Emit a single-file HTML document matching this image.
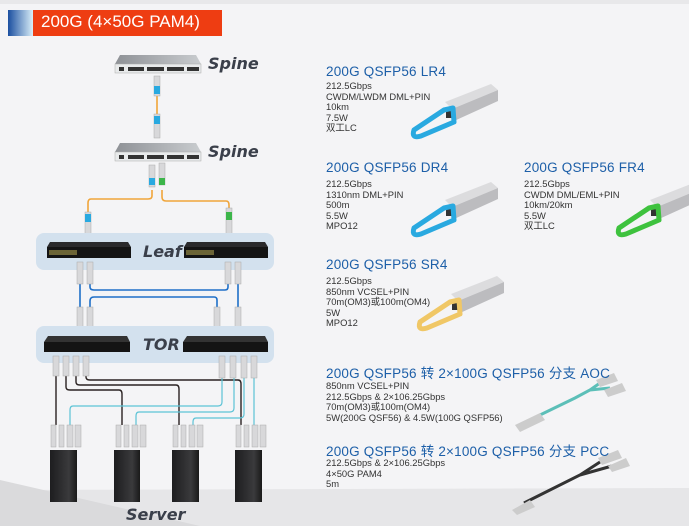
<!DOCTYPE html>
<html><head><meta charset="utf-8"><style>
html,body{margin:0;padding:0}
body{width:689px;height:526px;overflow:hidden;background:#f4f4f6;position:relative;font-family:"Liberation Sans","Noto Sans CJK SC",sans-serif}
.t{position:absolute;color:#1d5fa8;font-size:13.5px;white-space:nowrap;letter-spacing:0.2px}
.d{position:absolute;color:#333;font-size:9.4px;line-height:10.6px;white-space:nowrap}
.lbl{position:absolute;font-weight:bold;font-style:italic;color:#3a3f4a;font-size:16px;font-family:"DejaVu Sans",sans-serif}
</style></head><body>
<svg width="689" height="526" style="position:absolute;left:0;top:0">
<defs>
<linearGradient id="bg" x1="0" x2="1"><stop offset="0" stop-color="#1b4fa0"/><stop offset="1" stop-color="#d9eef8"/></linearGradient>
<linearGradient id="sw" x1="0" x2="1"><stop offset="0" stop-color="#8e9196"/><stop offset="1" stop-color="#c9cccf"/></linearGradient>
<linearGradient id="sv" x1="0" x2="1"><stop offset="0" stop-color="#1d1d1f"/><stop offset="0.7" stop-color="#3a3a3c"/><stop offset="1" stop-color="#1a1a1a"/></linearGradient>
<g id="mod">
<polygon points="445,102 491,84 498,90 452,109" fill="#dcdcde"/>
<polygon points="452,109 498,90 498,101 454,121" fill="#bcbcbf"/>
<rect x="446" y="108" width="8" height="10" fill="#333"/>
</g>
</defs>
<rect x="0" y="0" width="689" height="4" fill="#e8e8ea"/>
<polygon points="0,490 689,488 689,526 0,526" fill="#e6e6e8"/>
<polygon points="0,480 200,526 0,526" fill="#dadadc"/>
<rect x="8" y="10" width="25" height="26" fill="url(#bg)"/>
<rect x="33" y="10" width="189" height="26" fill="#ee3d12"/>
<g>
<polygon points="120,55 196,55 201,64 115,64" fill="url(#sw)"/>
<rect x="115" y="64" width="86" height="9" fill="#e8eaeb" stroke="#aaa" stroke-width="0.5"/>
<rect x="119" y="67" width="5" height="4" fill="#333"/><rect x="128" y="67" width="16" height="4" fill="#333"/><rect x="147" y="67" width="17" height="4" fill="#333"/><rect x="167" y="67" width="17" height="4" fill="#333"/><rect x="187" y="67" width="12" height="4" fill="#333"/>
</g>
<g transform="translate(0,88)">
<polygon points="120,55 196,55 201,64 115,64" fill="url(#sw)"/>
<rect x="115" y="64" width="86" height="9" fill="#e8eaeb" stroke="#aaa" stroke-width="0.5"/>
<rect x="119" y="67" width="5" height="4" fill="#333"/><rect x="128" y="67" width="16" height="4" fill="#333"/><rect x="147" y="67" width="17" height="4" fill="#333"/><rect x="167" y="67" width="17" height="4" fill="#333"/><rect x="187" y="67" width="12" height="4" fill="#333"/>
</g>
<g fill="none" stroke="#f0a53a" stroke-width="1.6">
<path d="M157,90 V120"/>
<path d="M152,190 V196 Q152,199 148,199 H91 Q88,199 88,203 V215"/>
<path d="M162,190 V197 Q162,201 166,201 H226 Q229,201 229,205 V215"/>
</g>
<g fill="#d8d8da" stroke="#aaa" stroke-width="0.5">
<rect x="154" y="76" width="6" height="20"/><rect x="154" y="114" width="6" height="24"/>
<rect x="149" y="165" width="6" height="22"/><rect x="159" y="163" width="6" height="22"/>
<rect x="85" y="212" width="6" height="26"/><rect x="226" y="208" width="6" height="28"/>
</g>
<g fill="#29a9e0"><rect x="154" y="86" width="6" height="8"/><rect x="154" y="116" width="6" height="8"/><rect x="149" y="178" width="6" height="7"/><rect x="85" y="214" width="6" height="8"/></g>
<g fill="#3cb54a"><rect x="159" y="178" width="6" height="7"/><rect x="226" y="212" width="6" height="8"/></g>
<rect x="36" y="233" width="238" height="37" rx="8" fill="#d3e1ee"/>
<polygon points="50,242 128,242 131,247 47,247" fill="#2a2a2c"/>
<rect x="47" y="247" width="84" height="11" fill="#141414"/>
<rect x="49" y="250" width="28" height="5" fill="#6b6436"/>
<polygon points="187,242 265,242 268,247 184,247" fill="#2a2a2c"/>
<rect x="184" y="247" width="84" height="11" fill="#141414"/>
<rect x="186" y="250" width="28" height="5" fill="#6b6436"/>
<g fill="none" stroke="#1e6fc8" stroke-width="1.6">
<path d="M80,282 V308"/><path d="M238,282 V308"/>
<path d="M90,282 V287 Q90,290 94,290 H225 Q228,290 228,287 V282"/>
<path d="M90,310 V301 Q90,297 94,297 H214 Q217,297 217,300 V308"/>
</g>
<g fill="#d8d8da" stroke="#aaa" stroke-width="0.5">
<rect x="77" y="262" width="6" height="22"/><rect x="87" y="262" width="6" height="22"/><rect x="225" y="262" width="6" height="22"/><rect x="235" y="262" width="6" height="22"/>
<rect x="77" y="307" width="6" height="24"/><rect x="87" y="307" width="6" height="24"/><rect x="214" y="307" width="6" height="24"/><rect x="235" y="307" width="6" height="24"/>
</g>
<rect x="36" y="326" width="238" height="37" rx="8" fill="#d3e1ee"/>
<polygon points="48,336 127,336 130,342 44,342" fill="#333"/>
<rect x="44" y="342" width="86" height="10" fill="#141414"/>
<polygon points="187,336 265,336 268,342 183,342" fill="#333"/>
<rect x="183" y="342" width="85" height="10" fill="#141414"/>
<g fill="none" stroke="#2a2222" stroke-width="1.4">
<path d="M56,375 V425"/>
<path d="M66,375 V387 Q66,390 70,390 H119 Q122,390 122,394 V425"/>
<path d="M76,375 V382 Q76,385 80,385 H176 Q179,385 179,389 V425"/>
<path d="M86,375 V377 Q86,380 90,380 H238 Q241,380 241,384 V425"/>
</g>
<g fill="none" stroke="#5cc3d6" stroke-width="1.2">
<path d="M222,375 V402 Q222,406 218,406 H73 Q70,406 70,410 V425"/>
<path d="M234,375 V408 Q234,412 230,412 H139 Q136,412 136,416 V425"/>
<path d="M244,375 V414 Q244,418 240,418 H196 Q193,418 193,422 V425"/>
<path d="M254,375 V425"/>
</g>
<g fill="#d8d8da" stroke="#aaa" stroke-width="0.5">
<rect x="53" y="356" width="6" height="20"/><rect x="63" y="356" width="6" height="20"/><rect x="73" y="356" width="6" height="20"/><rect x="83" y="356" width="6" height="20"/>
<rect x="219" y="356" width="6" height="22"/><rect x="230" y="356" width="6" height="22"/><rect x="241" y="356" width="6" height="22"/><rect x="251" y="356" width="6" height="22"/>
<rect x="51" y="425" width="5" height="22"/><rect x="59" y="425" width="5" height="22"/><rect x="67" y="425" width="6" height="22"/><rect x="75" y="425" width="6" height="22"/>
<rect x="116" y="425" width="5" height="22"/><rect x="124" y="425" width="5" height="22"/><rect x="132" y="425" width="6" height="22"/><rect x="140" y="425" width="6" height="22"/>
<rect x="173" y="425" width="5" height="22"/><rect x="181" y="425" width="5" height="22"/><rect x="189" y="425" width="6" height="22"/><rect x="197" y="425" width="6" height="22"/>
<rect x="236" y="425" width="5" height="22"/><rect x="244" y="425" width="5" height="22"/><rect x="252" y="425" width="6" height="22"/><rect x="260" y="425" width="6" height="22"/>
</g>
<g fill="url(#sv)">
<rect x="50" y="450" width="27" height="52"/><rect x="114" y="450" width="26" height="52"/><rect x="172" y="450" width="27" height="52"/><rect x="235" y="450" width="27" height="52"/>
</g>
<!-- modules -->
<use href="#mod"/>
<path d="M444,110 L453,108 L454,122 L421,136 Q411,139 414,130 Z" fill="none" stroke="#29a9e0" stroke-width="5" stroke-linejoin="round"/>
<g transform="translate(0,98)"><use href="#mod"/>
<path d="M444,110 L453,108 L454,122 L421,136 Q411,139 414,130 Z" fill="none" stroke="#29a9e0" stroke-width="5" stroke-linejoin="round"/></g>
<g transform="translate(205,98)"><use href="#mod"/>
<path d="M444,110 L453,108 L454,122 L421,136 Q411,139 414,130 Z" fill="none" stroke="#3ec23e" stroke-width="5" stroke-linejoin="round"/></g>
<g transform="translate(6,192)"><use href="#mod"/>
<path d="M444,110 L453,108 L454,122 L421,136 Q411,139 414,130 Z" fill="none" stroke="#f0c766" stroke-width="5" stroke-linejoin="round"/></g>
<!-- AOC -->
<path d="M540,415 L575,398 L590,390 L600,383 M590,390 L610,388" stroke="#5cbfb8" stroke-width="3" fill="none"/>
<polygon points="515,425 540,413 545,420 520,432" fill="#ccc"/>
<polygon points="596,380 614,373 618,381 600,387" fill="#ccc"/>
<polygon points="604,390 622,383 626,391 608,397" fill="#ccc"/>
<!-- PCC -->
<path d="M524,503 L580,475 L600,462 M580,475 L612,466" stroke="#333" stroke-width="3" fill="none"/>
<polygon points="512,510 530,500 535,507 517,515" fill="#ccc"/>
<polygon points="598,458 618,450 622,458 602,465" fill="#ccc"/>
<polygon points="608,466 626,458 630,466 612,472" fill="#ccc"/>
</svg>
<div style="position:absolute;left:41px;top:12px;color:#fff;font-size:17px">200G (4×50G PAM4)</div>
<div class="lbl" style="left:208px;top:54px">Spine</div>
<div class="lbl" style="left:208px;top:142px">Spine</div>
<div class="lbl" style="left:143px;top:242px">Leaf</div>
<div class="lbl" style="left:143px;top:335px">TOR</div>
<div class="lbl" style="left:126px;top:505px">Server</div>

<div class="t" style="left:326px;top:64px">200G QSFP56 LR4</div>
<div class="d" style="left:326px;top:81px">212.5Gbps<br>CWDM/LWDM DML+PIN<br>10km<br>7.5W<br>双工LC</div>
<div class="t" style="left:326px;top:160px">200G QSFP56 DR4</div>
<div class="d" style="left:326px;top:179px">212.5Gbps<br>1310nm DML+PIN<br>500m<br>5.5W<br>MPO12</div>
<div class="t" style="left:524px;top:160px">200G QSFP56 FR4</div>
<div class="d" style="left:524px;top:179px">212.5Gbps<br>CWDM DML/EML+PIN<br>10km/20km<br>5.5W<br>双工LC</div>
<div class="t" style="left:326px;top:257px">200G QSFP56 SR4</div>
<div class="d" style="left:326px;top:276px">212.5Gbps<br>850nm VCSEL+PIN<br>70m(OM3)或100m(OM4)<br>5W<br>MPO12</div>
<div class="t" style="left:326px;top:362px">200G QSFP56 转 2×100G QSFP56 分支 AOC</div>
<div class="d" style="left:326px;top:381px">850nm VCSEL+PIN<br>212.5Gbps &amp; 2×106.25Gbps<br>70m(OM3)或100m(OM4)<br>5W(200G QSF56) &amp; 4.5W(100G QSFP56)</div>
<div class="t" style="left:326px;top:440px">200G QSFP56 转 2×100G QSFP56 分支 PCC</div>
<div class="d" style="left:326px;top:458px">212.5Gbps &amp; 2×106.25Gbps<br>4×50G PAM4<br>5m</div>
</body></html>
